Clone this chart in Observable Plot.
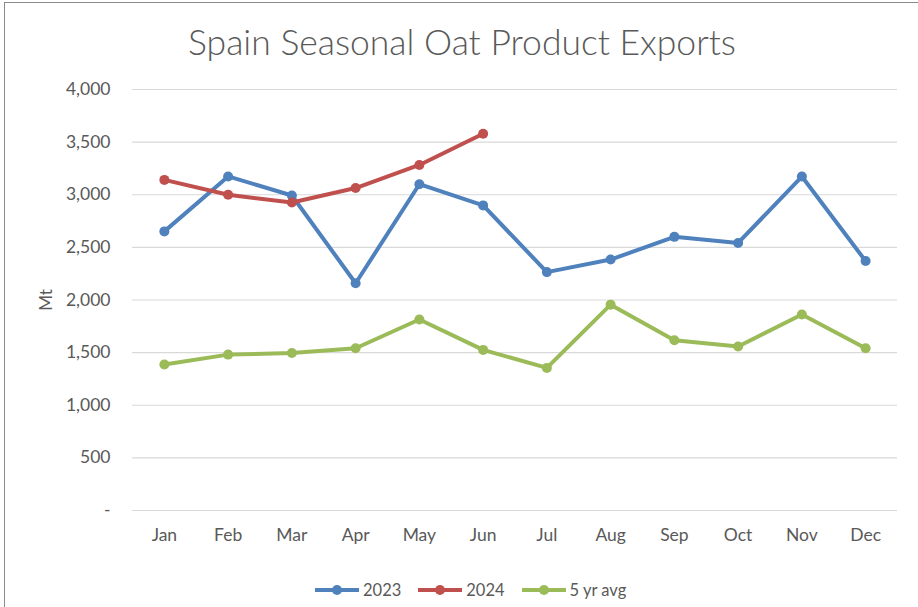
<!DOCTYPE html>
<html>
<head>
<meta charset="utf-8">
<script src="https://cdn.jsdelivr.net/npm/d3@7"></script>
<script src="https://cdn.jsdelivr.net/npm/@observablehq/plot@0.6"></script>
<style>
  html, body { margin: 0; padding: 0; background: #fff; }
  #wrap { position: relative; width: 918px; height: 607px; overflow: hidden; font-family: Lato, "Open Sans", sans-serif; color: #595959; }
  #frame { position: absolute; left: 4px; top: 2px; width: 930px; height: 620px; border-left: 1px solid #8a8a8a; border-top: 1px solid #8a8a8a; }
  #title { position: absolute; left: 0; top: 20px; width: 924px; text-align: center; font-size: 35.5px; font-weight: 300; color: #595959; }
  #plot { position: absolute; left: 0; top: 0; }
  #ylab { position: absolute; left: 45px; top: 300px; transform: translate(-50%, -50%) rotate(-90deg); font-size: 17px; color: #595959; }
  #legend { position: absolute; top: 580px; left: 315px; display: flex; align-items: center; font-size: 16.5px; color: #595959; }
  .item { display: flex; align-items: center; margin-right: 17px; }
  .item svg { margin-right: 4px; }
</style>
</head>
<body>
<div id="wrap">
  <div id="frame"></div>
  <div id="plot"></div>
  <div id="title">Spain Seasonal Oat Product Exports</div>
  <div id="ylab">Mt</div>
  <div id="legend"></div>
</div>
<script>
const months = ["Jan","Feb","Mar","Apr","May","Jun","Jul","Aug","Sep","Oct","Nov","Dec"];
const v2023 = [2652, 3174, 2993, 2159, 3100, 2899, 2265, 2384, 2600, 2542, 3173, 2370];
const v2024 = [3141, 3000, 2926, 3064, 3283, 3580];
const v5yr  = [1388, 1481, 1497, 1542, 1815, 1526, 1355, 1956, 1617, 1559, 1862, 1542];
const seriesNames = ["2023", "2024", "5 yr avg"];
const seriesColors = ["#4F81BD", "#C0504D", "#9BBB59"];
const yTicks = [0, 500, 1000, 1500, 2000, 2500, 3000, 3500, 4000];

const seriesValues = [v2023, v2024, v5yr];
const data = [];
seriesValues.forEach((vals, si) => {
  vals.forEach((v, i) => data.push({series: seriesNames[si], month: months[i], value: v}));
});

const fmt = d3.format(",");
const chart = Plot.plot({
  width: 918,
  height: 560,
  marginTop: 89,
  marginBottom: 50,
  marginLeft: 132,
  marginRight: 21,
  style: { fontFamily: 'Lato, "Open Sans", sans-serif', fontSize: "17.5px", color: "#595959", background: "transparent" },
  x: { type: "point", domain: months, padding: 0.5, round: false, label: null },
  y: { domain: [0, 4000], label: null },
  color: { domain: seriesNames, range: seriesColors },
  marks: [
    Plot.ruleY(yTicks, { stroke: "#d9d9d9", strokeWidth: 1.2 }),
    Plot.axisX({ tickSize: 0, tickPadding: 18, label: null, fontSize: 17.5 }),
    Plot.axisY({ ticks: yTicks, tickSize: 0, tickPadding: 22, label: null, tickFormat: d => d === 0 ? "-" : fmt(d), fontSize: 17.5 }),
    Plot.line(data, { x: "month", y: "value", z: "series", stroke: "series", strokeWidth: 4, curve: "linear" }),
    Plot.dot(data, { x: "month", y: "value", fill: "series", r: 5 })
  ]
});
document.getElementById("plot").appendChild(chart);

const legend = document.getElementById("legend");
seriesNames.forEach((name, i) => {
  const item = document.createElement("div");
  item.className = "item";
  item.innerHTML = `<svg width="44" height="14"><line x1="0" y1="7" x2="44" y2="7" stroke="${seriesColors[i]}" stroke-width="4"/><circle cx="22" cy="7" r="5" fill="${seriesColors[i]}"/></svg><span>${name}</span>`;
  legend.appendChild(item);
});
</script>
</body>
</html>
